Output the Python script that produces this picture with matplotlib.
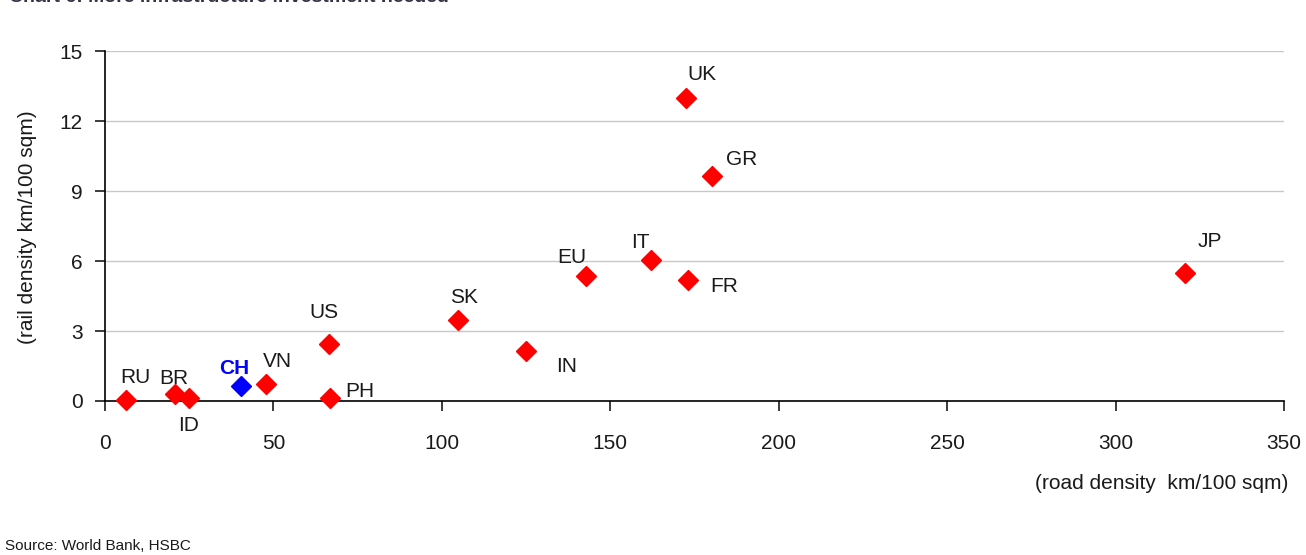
import matplotlib
matplotlib.use("Agg")
import matplotlib.pyplot as plt

plt.rcParams['font.family'] = ['Liberation Sans', 'DejaVu Sans']

countries = ["RU", "BR", "ID", "CH", "VN", "US", "PH", "SK", "IN", "EU", "IT", "FR", "UK", "GR", "JP"]
road_density = [6.2, 20.8, 24.9, 40.4, 47.8, 66.5, 66.8, 104.8, 125.0, 142.8, 162.0, 173.0, 172.5, 180.2, 320.6]
rail_density = [0.05, 0.3, 0.13, 0.64, 0.73, 2.44, 0.13, 3.47, 2.14, 5.36, 6.04, 5.19, 12.99, 9.64, 5.49]
highlight = "CH"

# label offsets in points (dx, dy) relative to each marker
label_offsets = {
    "RU": (6.5, 16), "BR": (-0.7, 11), "ID": (0, -20), "CH": (-5, 12.5), "VN": (8, 16),
    "US": (-3.6, 22.5), "PH": (21.6, 4.5), "SK": (4.3, 16), "IN": (29.5, -11.4),
    "EU": (-10, 13), "IT": (-7.2, 12.4), "FR": (26, -5), "UK": (11.5, 16.7),
    "GR": (21.6, 11.7), "JP": (18, 22.5),
}

fig = plt.figure(figsize=(13.06, 5.55), dpi=100)
ax = fig.add_axes([0.0804, 0.2775, 0.9028, 0.6305])

for name, x, y in zip(countries, road_density, rail_density):
    color = "#0000ff" if name == highlight else "#ff0000"
    ax.plot(x, y, marker="D", markersize=10, color=color, linestyle="none", zorder=3, clip_on=False)
    dx, dy = label_offsets[name]
    if name == highlight:
        ax.annotate(name, (x, y), xytext=(dx, dy), textcoords="offset points",
                    ha="center", va="center", fontsize=15, color="#0000ff",
                    fontweight="bold")
    else:
        ax.annotate(name, (x, y), xytext=(dx, dy), textcoords="offset points",
                    ha="center", va="center", fontsize=15, color="#1a1a1a")

ax.set_xlim(0, 350)
ax.set_ylim(0, 15)
ax.set_xticks(range(0, 351, 50))
ax.set_yticks(range(0, 16, 3))
ax.yaxis.grid(True, color="#c8c8c8", linewidth=1)
ax.set_axisbelow(True)
for side in ("top", "right"):
    ax.spines[side].set_visible(False)
for side in ("left", "bottom"):
    ax.spines[side].set_color("black")
    ax.spines[side].set_linewidth(1.2)
ax.tick_params(axis="both", direction="out", length=7, width=1.2, labelsize=15, colors="#1a1a1a")
ax.tick_params(axis="x", pad=17)
ax.tick_params(axis="y", pad=9)

fig.text(28 / 1306, 0.591, "(rail density km/100 sqm)", rotation=90,
         ha="center", va="center", fontsize=15, color="#1a1a1a")
ax.text(1.004, -0.235, "(road density  km/100 sqm)", transform=ax.transAxes,
        ha="right", va="center", fontsize=15, color="#1a1a1a")

fig.text(0.004, 0.004, "Source: World Bank, HSBC", fontsize=11, ha="left", va="bottom",
         color="#1a1a1a")
fig.text(0.007, 1.0045, "Chart 6: More infrastructure investment needed", fontsize=14,
         fontweight="bold", ha="left", va="center", color="#333344")

fig.savefig("out.png", dpi=100)
